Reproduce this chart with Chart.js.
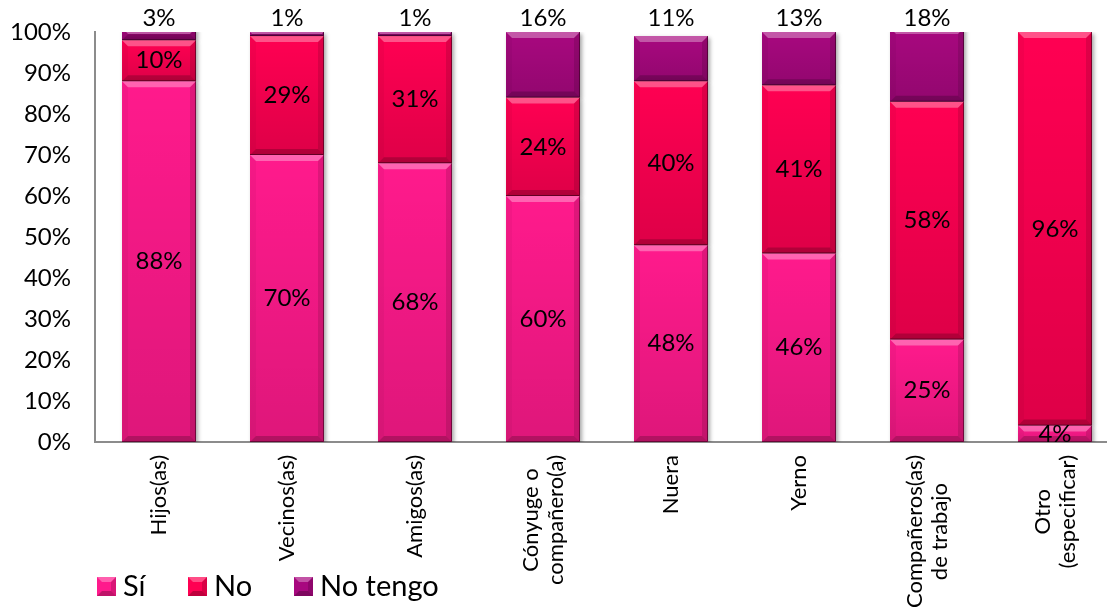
<!DOCTYPE html>
<html lang="es">
<head>
<meta charset="utf-8">
<title>Apoyo recibido</title>
<script src="https://cdn.jsdelivr.net/npm/chart.js@4.4.1/dist/chart.umd.min.js"></script>
<style>
  html, body { margin: 0; padding: 0; background: #fff; overflow: hidden; }
  #wrap { width: 1107px; height: 616px; overflow: hidden; position: relative; }
  canvas { display: block; }
</style>
</head>
<body>
<div id="wrap"><canvas id="chart" width="1120" height="616"></canvas></div>
<script>
  const categories = [
    ["Hijos(as)"], ["Vecinos(as)"], ["Amigos(as)"], ["Cónyuge o", "compañero(a)"],
    ["Nuera"], ["Yerno"], ["Compañeros(as)", "de trabajo"], ["Otro", "(especificar)"],
  ];
  const si      = [88, 70, 68, 60, 48, 46, 25, 4];
  const no      = [10, 29, 31, 24, 40, 41, 58, 96];
  const noTengo = [3, 1, 1, 16, 11, 13, 18, 0];

  const FONT = "Lato, 'Open Sans', sans-serif";

  // drop shadow under each series' bars
  const shadow = {
    id: "shadow",
    beforeDatasetDraw(chart) {
      const ctx = chart.ctx;
      ctx.save();
      ctx.shadowColor = "rgba(0,0,0,0.35)";
      ctx.shadowBlur = 4;
      ctx.shadowOffsetX = 2;
      ctx.shadowOffsetY = 2;
    },
    afterDatasetDraw(chart) { chart.ctx.restore(); },
  };

  function poly(ctx, pts, color) {
    ctx.beginPath();
    ctx.moveTo(pts[0], pts[1]);
    for (let k = 2; k < pts.length; k += 2) ctx.lineTo(pts[k], pts[k + 1]);
    ctx.closePath();
    ctx.fillStyle = color;
    ctx.fill();
  }

  // bevelled edges on every bar segment
  const bevel = {
    id: "bevel",
    afterDatasetsDraw(chart) {
      const { ctx, chartArea: a } = chart;
      ctx.save();
      ctx.beginPath();
      ctx.rect(a.left, a.top, a.right - a.left, a.bottom - a.top);
      ctx.clip();
      chart.data.datasets.forEach((ds, di) => {
        chart.getDatasetMeta(di).data.forEach((bar, i) => {
          if (!ds.data[i]) return;
          const { x, y, base, width } = bar.getProps(["x", "y", "base", "width"], true);
          const l = x - width / 2, r = x + width / 2;
          const t = Math.min(y, base), b = Math.max(y, base);
          const e = Math.min(6, (b - t) / 2);
          const g = ctx.createLinearGradient(0, t, 0, b);
          g.addColorStop(0, "rgba(0,0,0,0)");
          g.addColorStop(1, "rgba(0,0,0,0.13)");
          ctx.fillStyle = g;
          ctx.fillRect(l, t, width, b - t);
          poly(ctx, [l, t, r, t, r - e, t + e, l + e, t + e], "rgba(255,255,255,0.32)");
          poly(ctx, [l, b, r, b, r - e, b - e, l + e, b - e], "rgba(0,0,0,0.2)");
          poly(ctx, [l, t, l + e, t + e, l + e, b - e, l, b], "rgba(0,0,0,0.04)");
          poly(ctx, [r, t, r - e, t + e, r - e, b - e, r, b], "rgba(0,0,0,0.12)");
          ctx.strokeStyle = "rgba(40,0,20,0.55)";
          ctx.lineWidth = 1;
          ctx.beginPath();
          ctx.moveTo(r - 0.5, t);
          ctx.lineTo(r - 0.5, b - 0.5);
          ctx.lineTo(l, b - 0.5);
          ctx.stroke();
        });
      });
      ctx.restore();
    },
  };

  // percentage labels: centred in segments, "No tengo" above the bar
  const valueLabels = {
    id: "valueLabels",
    afterDatasetsDraw(chart) {
      const { ctx, chartArea } = chart;
      ctx.save();
      ctx.font = `24px ${FONT}`;
      ctx.fillStyle = "#000";
      ctx.textAlign = "center";
      ctx.textBaseline = "middle";
      chart.data.datasets.forEach((ds, di) => {
        chart.getDatasetMeta(di).data.forEach((bar, i) => {
          const v = ds.data[i];
          if (!v) return;
          const { x, y, base } = bar.getProps(["x", "y", "base"], true);
          const ty = ds.labelOnTop ? chartArea.top - 14 : (Math.max(y, chartArea.top) + base) / 2;
          ctx.fillText(v + "%", x, ty);
        });
      });
      ctx.restore();
    },
  };

  // vertical category labels, lines centred on each other
  const xLabels = {
    id: "xLabels",
    afterDraw(chart) {
      const { ctx, chartArea, scales: { x } } = chart;
      ctx.save();
      ctx.font = `22px ${FONT}`;
      ctx.fillStyle = "#000";
      ctx.textAlign = "center";
      ctx.textBaseline = "middle";
      chart.data.labels.forEach((lines, i) => {
        const cx = x.getPixelForTick(i);
        const w = Math.max(...lines.map((s) => ctx.measureText(s).width));
        const cy = chartArea.bottom + 13 + w / 2;
        lines.forEach((s, j) => {
          const off = (j - (lines.length - 1) / 2) * 25;
          ctx.save();
          ctx.translate(cx + off, cy);
          ctx.rotate(-Math.PI / 2);
          ctx.fillText(s, 0, 0);
          ctx.restore();
        });
      });
      ctx.restore();
    },
  };

  // legend in the lower left corner
  const legendBox = {
    id: "legendBox",
    afterDraw(chart) {
      const ctx = chart.ctx;
      const xs = [97, 188, 294];
      ctx.save();
      ctx.font = `29px ${FONT}`;
      ctx.textBaseline = "middle";
      ctx.textAlign = "left";
      chart.data.datasets.forEach((ds, di) => {
        const bx = xs[di], by = 577, s = 19;
        ctx.fillStyle = ds.backgroundColor;
        ctx.fillRect(bx, by, s, s);
        poly(ctx, [bx, by, bx + s, by, bx + s - 5, by + 5, bx + 5, by + 5], "rgba(255,255,255,0.30)");
        poly(ctx, [bx, by + s, bx + s, by + s, bx + s - 5, by + s - 5, bx + 5, by + s - 5], "rgba(0,0,0,0.25)");
        poly(ctx, [bx + s, by, bx + s - 5, by + 5, bx + s - 5, by + s - 5, bx + s, by + s], "rgba(0,0,0,0.15)");
        ctx.fillStyle = "#000";
        ctx.fillText(ds.label, bx + 26, by + 10);
      });
      ctx.restore();
    },
  };

  new Chart(document.getElementById("chart").getContext("2d"), {
    type: "bar",
    data: {
      labels: categories,
      datasets: [
        { label: "Sí", data: si, backgroundColor: "#FF1A8C" },
        { label: "No", data: no, backgroundColor: "#FF0052" },
        { label: "No tengo", data: noTengo, backgroundColor: "#A8087F", labelOnTop: true },
      ],
    },
    options: {
      animation: false,
      responsive: false,
      maintainAspectRatio: false,
      layout: { padding: { top: 32, left: 0, right: 1, bottom: 0 } },
      datasets: { bar: { categoryPercentage: 1, barPercentage: 0.578 } },
      plugins: { legend: { display: false }, tooltip: { enabled: false } },
      scales: {
        x: {
          stacked: true,
          grid: { display: false, drawTicks: false },
          border: { display: true, color: "#8c8c8c", width: 2 },
          ticks: { display: false },
          afterFit: (s) => {
            s.height = 174;
            s.paddingLeft = 0;
            s.paddingRight = 0;
          },
        },
        y: {
          stacked: true,
          min: 0,
          max: 100,
          grid: { display: false, drawTicks: false },
          border: { display: true, color: "#8c8c8c", width: 2 },
          ticks: {
            stepSize: 10,
            padding: 24,
            color: "#000",
            font: { family: FONT, size: 24 },
            callback: (v) => v + "%",
          },
          afterFit: (s) => {
            s.width = 95;
            s.paddingTop = 0;
            s.paddingBottom = 0;
          },
        },
      },
    },
    plugins: [shadow, bevel, valueLabels, xLabels, legendBox],
  });
</script>
</body>
</html>
